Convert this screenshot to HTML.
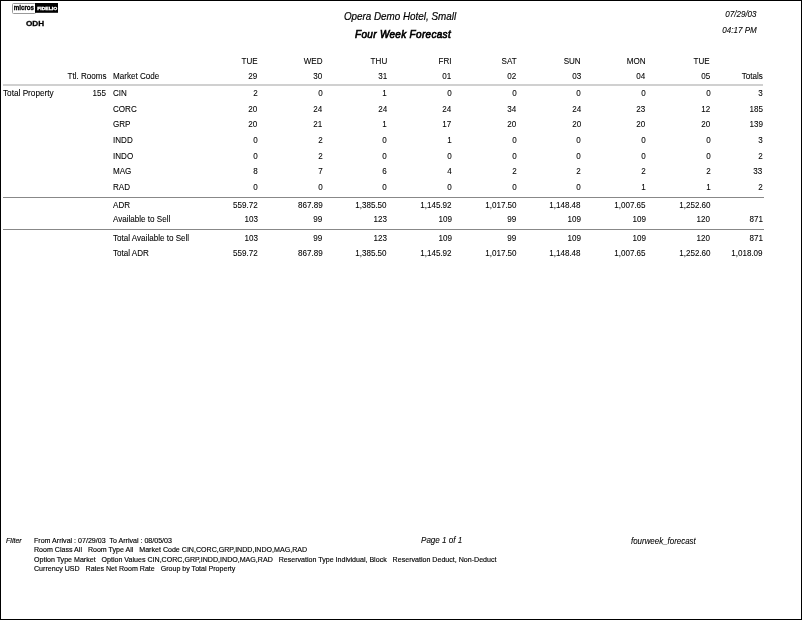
<!DOCTYPE html>
<html><head><meta charset="utf-8"><title>Four Week Forecast</title>
<style>
html,body{margin:0;padding:0;background:#fff;}
body{width:802px;height:620px;position:relative;overflow:hidden;font-family:"Liberation Sans",sans-serif;color:#000;}
.frame{position:absolute;left:0;top:0;width:800px;height:618px;border:1px solid #000;}
.t{position:absolute;white-space:nowrap;-webkit-text-stroke:0.08px #000;}
#wrap{position:absolute;left:0;top:0;width:802px;height:620px;will-change:transform;}
.ln{position:absolute;left:3px;width:760px;height:1px;background:#888;}
.logo{position:absolute;left:12px;top:3px;width:46px;height:11px;}
</style></head><body>
<div class="frame"></div>
<div id="wrap">
<svg class="logo" viewBox="0 0 46 11">
<rect x="0.5" y="0.5" width="23" height="10" rx="1" ry="1" fill="#fff" stroke="#999" stroke-width="1"/>
<rect x="23" y="0" width="23" height="9.8" fill="#000"/>
<text x="1.7" y="7.1" font-family="Liberation Sans, sans-serif" font-weight="bold" font-size="7.2" fill="#000" stroke="#000" stroke-width="0.3" textLength="20.4" lengthAdjust="spacingAndGlyphs">micros</text>
<text x="25.2" y="7.3" font-family="Liberation Sans, sans-serif" font-weight="bold" font-size="4.3" fill="#fff" stroke="#fff" stroke-width="0.3" textLength="20" lengthAdjust="spacingAndGlyphs">FIDELIO</text>
</svg>
<div class="ln" style="top:84px;height:2px;background:#d0d0d0;"></div>
<div class="ln" style="top:197px;width:761px;"></div>
<div class="ln" style="top:229px;width:761px;"></div>
<div class="t" style="top:56.00px;right:544.3px;transform-origin:100% 0;transform:scaleX(0.9638);font-size:8.4px;line-height:10px;">TUE</div>
<div class="t" style="top:56.00px;right:479.6px;transform-origin:100% 0;transform:scaleX(0.9638);font-size:8.4px;line-height:10px;">WED</div>
<div class="t" style="top:56.00px;right:415.0px;transform-origin:100% 0;transform:scaleX(0.9638);font-size:8.4px;line-height:10px;">THU</div>
<div class="t" style="top:56.00px;right:350.3px;transform-origin:100% 0;transform:scaleX(0.9638);font-size:8.4px;line-height:10px;">FRI</div>
<div class="t" style="top:56.00px;right:285.69999999999993px;transform-origin:100% 0;transform:scaleX(0.9638);font-size:8.4px;line-height:10px;">SAT</div>
<div class="t" style="top:56.00px;right:221.0999999999999px;transform-origin:100% 0;transform:scaleX(0.9638);font-size:8.4px;line-height:10px;">SUN</div>
<div class="t" style="top:56.00px;right:156.39999999999998px;transform-origin:100% 0;transform:scaleX(0.9638);font-size:8.4px;line-height:10px;">MON</div>
<div class="t" style="top:56.00px;right:91.79999999999995px;transform-origin:100% 0;transform:scaleX(0.9638);font-size:8.4px;line-height:10px;">TUE</div>
<div class="t" style="top:71.00px;right:544.3px;transform-origin:100% 0;transform:scaleX(0.9638);font-size:8.4px;line-height:10px;">29</div>
<div class="t" style="top:71.00px;right:479.6px;transform-origin:100% 0;transform:scaleX(0.9638);font-size:8.4px;line-height:10px;">30</div>
<div class="t" style="top:71.00px;right:415.0px;transform-origin:100% 0;transform:scaleX(0.9638);font-size:8.4px;line-height:10px;">31</div>
<div class="t" style="top:71.00px;right:350.3px;transform-origin:100% 0;transform:scaleX(0.9638);font-size:8.4px;line-height:10px;">01</div>
<div class="t" style="top:71.00px;right:285.69999999999993px;transform-origin:100% 0;transform:scaleX(0.9638);font-size:8.4px;line-height:10px;">02</div>
<div class="t" style="top:71.00px;right:221.0999999999999px;transform-origin:100% 0;transform:scaleX(0.9638);font-size:8.4px;line-height:10px;">03</div>
<div class="t" style="top:71.00px;right:156.39999999999998px;transform-origin:100% 0;transform:scaleX(0.9638);font-size:8.4px;line-height:10px;">04</div>
<div class="t" style="top:71.00px;right:91.79999999999995px;transform-origin:100% 0;transform:scaleX(0.9638);font-size:8.4px;line-height:10px;">05</div>
<div class="t" style="top:71.00px;right:39.200000000000045px;transform-origin:100% 0;transform:scaleX(0.9638);font-size:8.4px;line-height:10px;">Totals</div>
<div class="t" style="top:71.00px;right:695.4px;transform-origin:100% 0;transform:scaleX(0.9638);font-size:8.4px;line-height:10px;">Ttl. Rooms</div>
<div class="t" style="top:71.00px;left:113.4px;transform-origin:0 0;transform:scaleX(0.9638);font-size:8.4px;line-height:10px;">Market Code</div>
<div class="t" style="top:88.00px;left:3.2px;transform-origin:0 0;transform:scaleX(0.9810);font-size:8.4px;line-height:10px;">Total Property</div>
<div class="t" style="top:88.00px;right:696.2px;transform-origin:100% 0;transform:scaleX(0.9638);font-size:8.4px;line-height:10px;">155</div>
<div class="t" style="top:88.00px;left:113.4px;transform-origin:0 0;transform:scaleX(0.9638);font-size:8.4px;line-height:10px;">CIN</div>
<div class="t" style="top:88.00px;right:544.3px;transform-origin:100% 0;transform:scaleX(0.9638);font-size:8.4px;line-height:10px;">2</div>
<div class="t" style="top:88.00px;right:479.6px;transform-origin:100% 0;transform:scaleX(0.9638);font-size:8.4px;line-height:10px;">0</div>
<div class="t" style="top:88.00px;right:415.0px;transform-origin:100% 0;transform:scaleX(0.9638);font-size:8.4px;line-height:10px;">1</div>
<div class="t" style="top:88.00px;right:350.3px;transform-origin:100% 0;transform:scaleX(0.9638);font-size:8.4px;line-height:10px;">0</div>
<div class="t" style="top:88.00px;right:285.69999999999993px;transform-origin:100% 0;transform:scaleX(0.9638);font-size:8.4px;line-height:10px;">0</div>
<div class="t" style="top:88.00px;right:221.0999999999999px;transform-origin:100% 0;transform:scaleX(0.9638);font-size:8.4px;line-height:10px;">0</div>
<div class="t" style="top:88.00px;right:156.39999999999998px;transform-origin:100% 0;transform:scaleX(0.9638);font-size:8.4px;line-height:10px;">0</div>
<div class="t" style="top:88.00px;right:91.79999999999995px;transform-origin:100% 0;transform:scaleX(0.9638);font-size:8.4px;line-height:10px;">0</div>
<div class="t" style="top:88.00px;right:39.200000000000045px;transform-origin:100% 0;transform:scaleX(0.9638);font-size:8.4px;line-height:10px;">3</div>
<div class="t" style="top:104.00px;left:113.4px;transform-origin:0 0;transform:scaleX(0.9638);font-size:8.4px;line-height:10px;">CORC</div>
<div class="t" style="top:104.00px;right:544.3px;transform-origin:100% 0;transform:scaleX(0.9638);font-size:8.4px;line-height:10px;">20</div>
<div class="t" style="top:104.00px;right:479.6px;transform-origin:100% 0;transform:scaleX(0.9638);font-size:8.4px;line-height:10px;">24</div>
<div class="t" style="top:104.00px;right:415.0px;transform-origin:100% 0;transform:scaleX(0.9638);font-size:8.4px;line-height:10px;">24</div>
<div class="t" style="top:104.00px;right:350.3px;transform-origin:100% 0;transform:scaleX(0.9638);font-size:8.4px;line-height:10px;">24</div>
<div class="t" style="top:104.00px;right:285.69999999999993px;transform-origin:100% 0;transform:scaleX(0.9638);font-size:8.4px;line-height:10px;">34</div>
<div class="t" style="top:104.00px;right:221.0999999999999px;transform-origin:100% 0;transform:scaleX(0.9638);font-size:8.4px;line-height:10px;">24</div>
<div class="t" style="top:104.00px;right:156.39999999999998px;transform-origin:100% 0;transform:scaleX(0.9638);font-size:8.4px;line-height:10px;">23</div>
<div class="t" style="top:104.00px;right:91.79999999999995px;transform-origin:100% 0;transform:scaleX(0.9638);font-size:8.4px;line-height:10px;">12</div>
<div class="t" style="top:104.00px;right:39.200000000000045px;transform-origin:100% 0;transform:scaleX(0.9638);font-size:8.4px;line-height:10px;">185</div>
<div class="t" style="top:119.00px;left:113.4px;transform-origin:0 0;transform:scaleX(0.9638);font-size:8.4px;line-height:10px;">GRP</div>
<div class="t" style="top:119.00px;right:544.3px;transform-origin:100% 0;transform:scaleX(0.9638);font-size:8.4px;line-height:10px;">20</div>
<div class="t" style="top:119.00px;right:479.6px;transform-origin:100% 0;transform:scaleX(0.9638);font-size:8.4px;line-height:10px;">21</div>
<div class="t" style="top:119.00px;right:415.0px;transform-origin:100% 0;transform:scaleX(0.9638);font-size:8.4px;line-height:10px;">1</div>
<div class="t" style="top:119.00px;right:350.3px;transform-origin:100% 0;transform:scaleX(0.9638);font-size:8.4px;line-height:10px;">17</div>
<div class="t" style="top:119.00px;right:285.69999999999993px;transform-origin:100% 0;transform:scaleX(0.9638);font-size:8.4px;line-height:10px;">20</div>
<div class="t" style="top:119.00px;right:221.0999999999999px;transform-origin:100% 0;transform:scaleX(0.9638);font-size:8.4px;line-height:10px;">20</div>
<div class="t" style="top:119.00px;right:156.39999999999998px;transform-origin:100% 0;transform:scaleX(0.9638);font-size:8.4px;line-height:10px;">20</div>
<div class="t" style="top:119.00px;right:91.79999999999995px;transform-origin:100% 0;transform:scaleX(0.9638);font-size:8.4px;line-height:10px;">20</div>
<div class="t" style="top:119.00px;right:39.200000000000045px;transform-origin:100% 0;transform:scaleX(0.9638);font-size:8.4px;line-height:10px;">139</div>
<div class="t" style="top:135.00px;left:113.4px;transform-origin:0 0;transform:scaleX(0.9638);font-size:8.4px;line-height:10px;">INDD</div>
<div class="t" style="top:135.00px;right:544.3px;transform-origin:100% 0;transform:scaleX(0.9638);font-size:8.4px;line-height:10px;">0</div>
<div class="t" style="top:135.00px;right:479.6px;transform-origin:100% 0;transform:scaleX(0.9638);font-size:8.4px;line-height:10px;">2</div>
<div class="t" style="top:135.00px;right:415.0px;transform-origin:100% 0;transform:scaleX(0.9638);font-size:8.4px;line-height:10px;">0</div>
<div class="t" style="top:135.00px;right:350.3px;transform-origin:100% 0;transform:scaleX(0.9638);font-size:8.4px;line-height:10px;">1</div>
<div class="t" style="top:135.00px;right:285.69999999999993px;transform-origin:100% 0;transform:scaleX(0.9638);font-size:8.4px;line-height:10px;">0</div>
<div class="t" style="top:135.00px;right:221.0999999999999px;transform-origin:100% 0;transform:scaleX(0.9638);font-size:8.4px;line-height:10px;">0</div>
<div class="t" style="top:135.00px;right:156.39999999999998px;transform-origin:100% 0;transform:scaleX(0.9638);font-size:8.4px;line-height:10px;">0</div>
<div class="t" style="top:135.00px;right:91.79999999999995px;transform-origin:100% 0;transform:scaleX(0.9638);font-size:8.4px;line-height:10px;">0</div>
<div class="t" style="top:135.00px;right:39.200000000000045px;transform-origin:100% 0;transform:scaleX(0.9638);font-size:8.4px;line-height:10px;">3</div>
<div class="t" style="top:151.00px;left:113.4px;transform-origin:0 0;transform:scaleX(0.9638);font-size:8.4px;line-height:10px;">INDO</div>
<div class="t" style="top:151.00px;right:544.3px;transform-origin:100% 0;transform:scaleX(0.9638);font-size:8.4px;line-height:10px;">0</div>
<div class="t" style="top:151.00px;right:479.6px;transform-origin:100% 0;transform:scaleX(0.9638);font-size:8.4px;line-height:10px;">2</div>
<div class="t" style="top:151.00px;right:415.0px;transform-origin:100% 0;transform:scaleX(0.9638);font-size:8.4px;line-height:10px;">0</div>
<div class="t" style="top:151.00px;right:350.3px;transform-origin:100% 0;transform:scaleX(0.9638);font-size:8.4px;line-height:10px;">0</div>
<div class="t" style="top:151.00px;right:285.69999999999993px;transform-origin:100% 0;transform:scaleX(0.9638);font-size:8.4px;line-height:10px;">0</div>
<div class="t" style="top:151.00px;right:221.0999999999999px;transform-origin:100% 0;transform:scaleX(0.9638);font-size:8.4px;line-height:10px;">0</div>
<div class="t" style="top:151.00px;right:156.39999999999998px;transform-origin:100% 0;transform:scaleX(0.9638);font-size:8.4px;line-height:10px;">0</div>
<div class="t" style="top:151.00px;right:91.79999999999995px;transform-origin:100% 0;transform:scaleX(0.9638);font-size:8.4px;line-height:10px;">0</div>
<div class="t" style="top:151.00px;right:39.200000000000045px;transform-origin:100% 0;transform:scaleX(0.9638);font-size:8.4px;line-height:10px;">2</div>
<div class="t" style="top:166.00px;left:113.4px;transform-origin:0 0;transform:scaleX(0.9638);font-size:8.4px;line-height:10px;">MAG</div>
<div class="t" style="top:166.00px;right:544.3px;transform-origin:100% 0;transform:scaleX(0.9638);font-size:8.4px;line-height:10px;">8</div>
<div class="t" style="top:166.00px;right:479.6px;transform-origin:100% 0;transform:scaleX(0.9638);font-size:8.4px;line-height:10px;">7</div>
<div class="t" style="top:166.00px;right:415.0px;transform-origin:100% 0;transform:scaleX(0.9638);font-size:8.4px;line-height:10px;">6</div>
<div class="t" style="top:166.00px;right:350.3px;transform-origin:100% 0;transform:scaleX(0.9638);font-size:8.4px;line-height:10px;">4</div>
<div class="t" style="top:166.00px;right:285.69999999999993px;transform-origin:100% 0;transform:scaleX(0.9638);font-size:8.4px;line-height:10px;">2</div>
<div class="t" style="top:166.00px;right:221.0999999999999px;transform-origin:100% 0;transform:scaleX(0.9638);font-size:8.4px;line-height:10px;">2</div>
<div class="t" style="top:166.00px;right:156.39999999999998px;transform-origin:100% 0;transform:scaleX(0.9638);font-size:8.4px;line-height:10px;">2</div>
<div class="t" style="top:166.00px;right:91.79999999999995px;transform-origin:100% 0;transform:scaleX(0.9638);font-size:8.4px;line-height:10px;">2</div>
<div class="t" style="top:166.00px;right:39.200000000000045px;transform-origin:100% 0;transform:scaleX(0.9638);font-size:8.4px;line-height:10px;">33</div>
<div class="t" style="top:182.00px;left:113.4px;transform-origin:0 0;transform:scaleX(0.9638);font-size:8.4px;line-height:10px;">RAD</div>
<div class="t" style="top:182.00px;right:544.3px;transform-origin:100% 0;transform:scaleX(0.9638);font-size:8.4px;line-height:10px;">0</div>
<div class="t" style="top:182.00px;right:479.6px;transform-origin:100% 0;transform:scaleX(0.9638);font-size:8.4px;line-height:10px;">0</div>
<div class="t" style="top:182.00px;right:415.0px;transform-origin:100% 0;transform:scaleX(0.9638);font-size:8.4px;line-height:10px;">0</div>
<div class="t" style="top:182.00px;right:350.3px;transform-origin:100% 0;transform:scaleX(0.9638);font-size:8.4px;line-height:10px;">0</div>
<div class="t" style="top:182.00px;right:285.69999999999993px;transform-origin:100% 0;transform:scaleX(0.9638);font-size:8.4px;line-height:10px;">0</div>
<div class="t" style="top:182.00px;right:221.0999999999999px;transform-origin:100% 0;transform:scaleX(0.9638);font-size:8.4px;line-height:10px;">0</div>
<div class="t" style="top:182.00px;right:156.39999999999998px;transform-origin:100% 0;transform:scaleX(0.9638);font-size:8.4px;line-height:10px;">1</div>
<div class="t" style="top:182.00px;right:91.79999999999995px;transform-origin:100% 0;transform:scaleX(0.9638);font-size:8.4px;line-height:10px;">1</div>
<div class="t" style="top:182.00px;right:39.200000000000045px;transform-origin:100% 0;transform:scaleX(0.9638);font-size:8.4px;line-height:10px;">2</div>
<div class="t" style="top:200.00px;left:113.4px;transform-origin:0 0;transform:scaleX(0.9638);font-size:8.4px;line-height:10px;">ADR</div>
<div class="t" style="top:200.00px;right:544.3px;transform-origin:100% 0;transform:scaleX(0.9638);font-size:8.4px;line-height:10px;">559.72</div>
<div class="t" style="top:200.00px;right:479.6px;transform-origin:100% 0;transform:scaleX(0.9638);font-size:8.4px;line-height:10px;">867.89</div>
<div class="t" style="top:200.00px;right:415.0px;transform-origin:100% 0;transform:scaleX(0.9638);font-size:8.4px;line-height:10px;">1,385.50</div>
<div class="t" style="top:200.00px;right:350.3px;transform-origin:100% 0;transform:scaleX(0.9638);font-size:8.4px;line-height:10px;">1,145.92</div>
<div class="t" style="top:200.00px;right:285.69999999999993px;transform-origin:100% 0;transform:scaleX(0.9638);font-size:8.4px;line-height:10px;">1,017.50</div>
<div class="t" style="top:200.00px;right:221.0999999999999px;transform-origin:100% 0;transform:scaleX(0.9638);font-size:8.4px;line-height:10px;">1,148.48</div>
<div class="t" style="top:200.00px;right:156.39999999999998px;transform-origin:100% 0;transform:scaleX(0.9638);font-size:8.4px;line-height:10px;">1,007.65</div>
<div class="t" style="top:200.00px;right:91.79999999999995px;transform-origin:100% 0;transform:scaleX(0.9638);font-size:8.4px;line-height:10px;">1,252.60</div>
<div class="t" style="top:214.00px;left:113.4px;transform-origin:0 0;transform:scaleX(0.9638);font-size:8.4px;line-height:10px;">Available to Sell</div>
<div class="t" style="top:214.00px;right:544.3px;transform-origin:100% 0;transform:scaleX(0.9638);font-size:8.4px;line-height:10px;">103</div>
<div class="t" style="top:214.00px;right:479.6px;transform-origin:100% 0;transform:scaleX(0.9638);font-size:8.4px;line-height:10px;">99</div>
<div class="t" style="top:214.00px;right:415.0px;transform-origin:100% 0;transform:scaleX(0.9638);font-size:8.4px;line-height:10px;">123</div>
<div class="t" style="top:214.00px;right:350.3px;transform-origin:100% 0;transform:scaleX(0.9638);font-size:8.4px;line-height:10px;">109</div>
<div class="t" style="top:214.00px;right:285.69999999999993px;transform-origin:100% 0;transform:scaleX(0.9638);font-size:8.4px;line-height:10px;">99</div>
<div class="t" style="top:214.00px;right:221.0999999999999px;transform-origin:100% 0;transform:scaleX(0.9638);font-size:8.4px;line-height:10px;">109</div>
<div class="t" style="top:214.00px;right:156.39999999999998px;transform-origin:100% 0;transform:scaleX(0.9638);font-size:8.4px;line-height:10px;">109</div>
<div class="t" style="top:214.00px;right:91.79999999999995px;transform-origin:100% 0;transform:scaleX(0.9638);font-size:8.4px;line-height:10px;">120</div>
<div class="t" style="top:214.00px;right:39.200000000000045px;transform-origin:100% 0;transform:scaleX(0.9638);font-size:8.4px;line-height:10px;">871</div>
<div class="t" style="top:233.00px;left:113.4px;transform-origin:0 0;transform:scaleX(0.9638);font-size:8.4px;line-height:10px;">Total Available to Sell</div>
<div class="t" style="top:233.00px;right:544.3px;transform-origin:100% 0;transform:scaleX(0.9638);font-size:8.4px;line-height:10px;">103</div>
<div class="t" style="top:233.00px;right:479.6px;transform-origin:100% 0;transform:scaleX(0.9638);font-size:8.4px;line-height:10px;">99</div>
<div class="t" style="top:233.00px;right:415.0px;transform-origin:100% 0;transform:scaleX(0.9638);font-size:8.4px;line-height:10px;">123</div>
<div class="t" style="top:233.00px;right:350.3px;transform-origin:100% 0;transform:scaleX(0.9638);font-size:8.4px;line-height:10px;">109</div>
<div class="t" style="top:233.00px;right:285.69999999999993px;transform-origin:100% 0;transform:scaleX(0.9638);font-size:8.4px;line-height:10px;">99</div>
<div class="t" style="top:233.00px;right:221.0999999999999px;transform-origin:100% 0;transform:scaleX(0.9638);font-size:8.4px;line-height:10px;">109</div>
<div class="t" style="top:233.00px;right:156.39999999999998px;transform-origin:100% 0;transform:scaleX(0.9638);font-size:8.4px;line-height:10px;">109</div>
<div class="t" style="top:233.00px;right:91.79999999999995px;transform-origin:100% 0;transform:scaleX(0.9638);font-size:8.4px;line-height:10px;">120</div>
<div class="t" style="top:233.00px;right:39.200000000000045px;transform-origin:100% 0;transform:scaleX(0.9638);font-size:8.4px;line-height:10px;">871</div>
<div class="t" style="top:248.00px;left:113.4px;transform-origin:0 0;transform:scaleX(0.9638);font-size:8.4px;line-height:10px;">Total ADR</div>
<div class="t" style="top:248.00px;right:544.3px;transform-origin:100% 0;transform:scaleX(0.9638);font-size:8.4px;line-height:10px;">559.72</div>
<div class="t" style="top:248.00px;right:479.6px;transform-origin:100% 0;transform:scaleX(0.9638);font-size:8.4px;line-height:10px;">867.89</div>
<div class="t" style="top:248.00px;right:415.0px;transform-origin:100% 0;transform:scaleX(0.9638);font-size:8.4px;line-height:10px;">1,385.50</div>
<div class="t" style="top:248.00px;right:350.3px;transform-origin:100% 0;transform:scaleX(0.9638);font-size:8.4px;line-height:10px;">1,145.92</div>
<div class="t" style="top:248.00px;right:285.69999999999993px;transform-origin:100% 0;transform:scaleX(0.9638);font-size:8.4px;line-height:10px;">1,017.50</div>
<div class="t" style="top:248.00px;right:221.0999999999999px;transform-origin:100% 0;transform:scaleX(0.9638);font-size:8.4px;line-height:10px;">1,148.48</div>
<div class="t" style="top:248.00px;right:156.39999999999998px;transform-origin:100% 0;transform:scaleX(0.9638);font-size:8.4px;line-height:10px;">1,007.65</div>
<div class="t" style="top:248.00px;right:91.79999999999995px;transform-origin:100% 0;transform:scaleX(0.9638);font-size:8.4px;line-height:10px;">1,252.60</div>
<div class="t" style="top:248.00px;right:39.200000000000045px;transform-origin:100% 0;transform:scaleX(0.9638);font-size:8.4px;line-height:10px;">1,018.09</div>
<div class="t" style="top:10.00px;left:200px;width:400px;text-align:center;transform-origin:50% 0;transform:scaleX(0.9381);font-size:10.5px;line-height:12px;font-style:italic;-webkit-text-stroke:0.2px #000;">Opera Demo Hotel, Small</div>
<div class="t" style="top:28.00px;left:202.60000000000002px;width:400px;text-align:center;transform-origin:50% 0;transform:scaleX(0.9524);font-size:10.5px;line-height:12px;font-style:italic;-webkit-text-stroke:0.65px #000;letter-spacing:0.33px;">Four Week Forecast</div>
<div class="t" style="top:9.00px;right:45.60000000000002px;transform-origin:100% 0;transform:scaleX(0.9638);font-size:8.4px;line-height:10px;font-style:italic;">07/29/03</div>
<div class="t" style="top:25.00px;right:45.60000000000002px;transform-origin:100% 0;transform:scaleX(0.9638);font-size:8.4px;line-height:10px;font-style:italic;">04:17 PM</div>
<div class="t" style="top:19.00px;left:-164.6px;width:400px;text-align:center;transform-origin:50% 0;transform:scaleX(1.0667);font-size:7.67px;line-height:9px;font-weight:bold;-webkit-text-stroke:0.3px #000;">ODH</div>
<div class="t" style="top:536.00px;left:6px;transform-origin:0 0;transform:scaleX(0.9638);font-size:7.35px;line-height:9px;font-style:italic;-webkit-text-stroke:0.15px #000;">Filter</div>
<div class="t" style="top:536.00px;left:34.3px;transform-origin:0 0;transform:scaleX(0.9638);font-size:7.35px;line-height:9px;-webkit-text-stroke:0.15px #000;">From Arrival : 07/29/03&nbsp; To Arrival : 08/05/03</div>
<div class="t" style="top:545.00px;left:34.3px;transform-origin:0 0;transform:scaleX(0.9638);font-size:7.35px;line-height:9px;-webkit-text-stroke:0.15px #000;">Room Class All&nbsp;&nbsp; Room Type All&nbsp;&nbsp; Market Code CIN,CORC,GRP,INDD,INDO,MAG,RAD</div>
<div class="t" style="top:555.00px;left:34.3px;transform-origin:0 0;transform:scaleX(0.9638);font-size:7.35px;line-height:9px;-webkit-text-stroke:0.15px #000;">Option Type Market&nbsp;&nbsp; Option Values CIN,CORC,GRP,INDD,INDO,MAG,RAD&nbsp;&nbsp; Reservation Type Individual, Block&nbsp;&nbsp; Reservation Deduct, Non-Deduct</div>
<div class="t" style="top:564.00px;left:34.3px;transform-origin:0 0;transform:scaleX(0.9638);font-size:7.35px;line-height:9px;-webkit-text-stroke:0.15px #000;">Currency USD&nbsp;&nbsp; Rates Net Room Rate&nbsp;&nbsp; Group by Total Property</div>
<div class="t" style="top:535.00px;left:420.5px;transform-origin:0 0;transform:scaleX(0.9638);font-size:8.4px;line-height:10px;font-style:italic;">Page 1 of 1</div>
<div class="t" style="top:536.00px;left:630.7px;transform-origin:0 0;transform:scaleX(0.9457);font-size:8.4px;line-height:10px;font-style:italic;">fourweek_forecast</div>
</div>
</body></html>
